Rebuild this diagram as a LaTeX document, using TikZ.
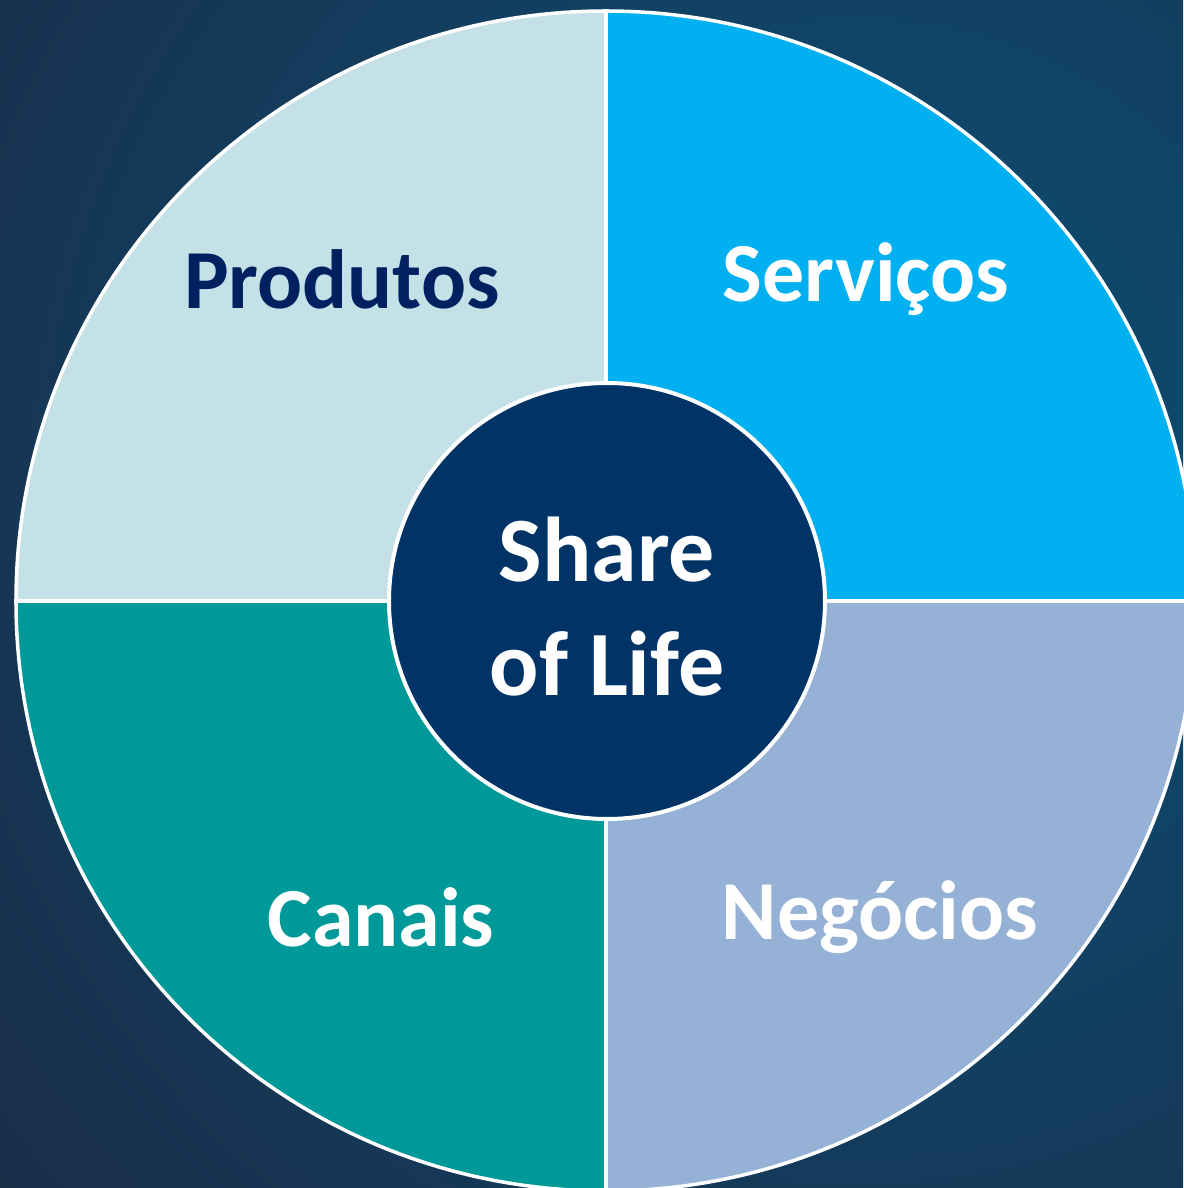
\documentclass[tikz,border=0pt]{standalone}
\usepackage{fontspec}
\setmainfont{Carlito}
\usepackage{tikz}

\definecolor{bgdark}{HTML}{1B2A45}
\definecolor{bglight}{HTML}{0A5279}
\definecolor{produtoscol}{HTML}{C5E1E8}
\definecolor{servicoscol}{HTML}{00B0F0}
\definecolor{negocioscol}{HTML}{95B1D5}
\definecolor{canaiscol}{HTML}{009999}
\definecolor{centercol}{HTML}{003366}
\definecolor{navytext}{HTML}{002060}

\tikzset{
  quarterlabel/.style={font=\fontsize{84}{96}\selectfont\bfseries, text=white},
  sep/.style={draw=white, line width=3.5pt}
}

\begin{document}
\begin{tikzpicture}[x=1pt,y=1pt]
\useasboundingbox (-606,-587) rectangle (577,601);
\begin{scope}
\clip (-606,-587) rectangle (577,601);
\fill[bgdark] (-606,-587) rectangle (577,601);
\shade[inner color=bglight, outer color=bgdark] (250,120) circle (1200);
\end{scope}

% quarters
\fill[produtoscol] (0,0) -- (-590,0) arc (180:90:590) -- cycle;
\fill[servicoscol] (0,0) -- (0,590) arc (90:0:590) -- cycle;
\fill[negocioscol] (0,0) -- (590,0) arc (0:-90:590) -- cycle;
\fill[canaiscol] (0,0) -- (0,-590) arc (-90:-180:590) -- cycle;
\draw[sep] (0,0) circle (590);
\draw[sep] (-590,0) -- (590,0);
\draw[sep] (0,-590) -- (0,590);

% centre
\node[circle, fill=centercol, draw=white, line width=4pt, minimum size=436pt, inner sep=0pt] (core) at (1,0) {};
\node[quarterlabel, font=\fontsize{92}{114}\selectfont\bfseries, align=center] (share) at (1,-6) {Share\\of Life};

\node[quarterlabel, text=navytext] (produtos) at (-264,322) {Produtos};
\node[quarterlabel] (servicos) at (260,322) {Serviços};
\node[quarterlabel] (canais) at (-225,-316) {Canais};
\node[quarterlabel] (negocios) at (274,-316) {Negócios};
\end{tikzpicture}
\end{document}
